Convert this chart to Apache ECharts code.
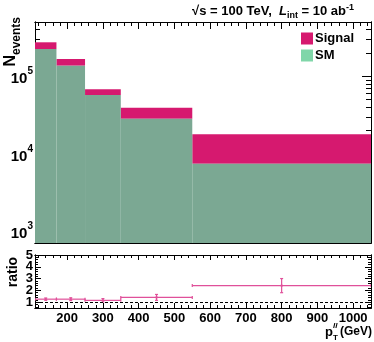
<!DOCTYPE html>
<html>
<head>
<meta charset="utf-8">
<script src="https://cdn.jsdelivr.net/npm/echarts@6/dist/echarts.min.js"></script>
<style>
html, body { margin: 0; padding: 0; background: #fff; }
#chart { width: 374px; height: 342px; }
</style>
</head>
<body>
<div id="chart"></div>
<script>
// pT bins (GeV)
var binLow = [110, 170, 250, 350, 550];
var binHigh = [170, 250, 350, 550, 1050];

// events per bin
var smEvents = [224000, 137000, 57400, 28500, 7500];
var signalEvents = [50000, 30000, 10600, 11000, 10400];

// ratio panel
var ratioValues = [1.25, 1.25, 1.15, 1.4, 2.4];
var ratioErrors = [0.1, 0.12, 0.15, 0.25, 0.6];

// axis ticks
var xMajor = [200, 300, 400, 500, 600, 700, 800, 900, 1000];
var yMajor = [1000, 10000, 100000];
var ratioMajor = [1, 2, 3, 4, 5];

var xMin = 110, xMax = 1050;
var yMin = 716, yMax = 500000;
var rMin = 0.5, rMax = 5;

var xMinor = [];
for (var v = 120; v <= 1040; v += 20) {
	if (v % 100 !== 0) xMinor.push(v);
}
var yMinor = [];
[100, 1000, 10000, 100000].forEach(function (d) {
	for (var k = 2; k <= 9; k++) {
		var t = k * d;
		if (t > yMin && t < yMax) yMinor.push(t);
	}
});
var ratioMinor = [];
for (var r = 6; r <= 48; r += 2) {
	if (r % 10 !== 0) ratioMinor.push(r / 10);
}
//比值轴标签太挤，分成两组放在两根重叠的轴上
var ratioOdd = ratioMajor.filter(function (d) { return d % 2 === 1; });
var ratioEven = ratioMajor.filter(function (d) { return d % 2 === 0; });

var FONT = "'Liberation Sans', Arial, sans-serif";

var chart = echarts.init(document.getElementById("chart"));

//单根坐标轴，只负责一组刻度
function tickAxis(dim, grid, pos, values, len, extra) {
	var ax = {
		type: "value",
		gridIndex: grid,
		position: pos,
		axisLine: { show: true, onZero: false, lineStyle: { color: "#000", width: 1 } },
		axisTick: { show: true, inside: true, length: len, customValues: values, lineStyle: { color: "#000", width: 1 } },
		axisLabel: { show: false },
		splitLine: { show: false }
	};
	if (dim === "x") {
		ax.min = xMin; ax.max = xMax;
	} else if (grid === 0) {
		ax.type = "log"; ax.logBase = 10; ax.min = yMin; ax.max = yMax;
	} else {
		ax.min = rMin; ax.max = rMax;
	}
	return Object.assign(ax, extra || {});
}

function plainLabels(values, size) {
	return {
		show: true, customValues: values, margin: 2, interval: 0,
		showMinLabel: true, showMaxLabel: true, hideOverlap: false,
		formatter: function (val) { return String(val); },
		color: "#000", fontSize: size, fontWeight: "bold", fontFamily: FONT
	};
}

var xAxes = [
	tickAxis("x", 0, "bottom", xMajor, 7),
	tickAxis("x", 0, "bottom", xMinor, 4),
	tickAxis("x", 0, "top", xMajor, 7),
	tickAxis("x", 0, "top", xMinor, 4),
	tickAxis("x", 1, "bottom", xMajor, 5, {
		axisLabel: Object.assign(plainLabels(xMajor, 13), { margin: 4 })
	}),
	tickAxis("x", 1, "bottom", xMinor, 3),
	tickAxis("x", 1, "top", xMajor, 5),
	tickAxis("x", 1, "top", xMinor, 3)
];

var yAxes = [
	tickAxis("y", 0, "left", yMajor, 9, {
		axisLabel: {
			show: true, customValues: yMajor, margin: 2, interval: 0,
			showMinLabel: true, showMaxLabel: true, hideOverlap: false,
			formatter: function (val) {
				return "{b|10}{s|" + Math.round(Math.log10(val)) + "}";
			},
			rich: {
				b: { fontSize: 15, fontWeight: "bold", fontFamily: FONT, color: "#000", lineHeight: 20, verticalAlign: "bottom" },
				s: { fontSize: 10, fontWeight: "bold", fontFamily: FONT, color: "#000", lineHeight: 20, verticalAlign: "top" }
			}
		}
	}),
	tickAxis("y", 0, "left", yMinor, 5),
	tickAxis("y", 0, "right", yMajor, 9),
	tickAxis("y", 0, "right", yMinor, 5),
	tickAxis("y", 1, "left", ratioMajor, 6, { axisLabel: plainLabels(ratioOdd, 13) }),
	tickAxis("y", 1, "left", ratioMinor, 3, { axisLabel: plainLabels(ratioEven, 13) }),
	tickAxis("y", 1, "right", ratioMajor, 6),
	tickAxis("y", 1, "right", ratioMinor, 3)
];

//直方图矩形
function renderBlock(params, api) {
	var a = api.coord([api.value(0), api.value(2)]);
	var b = api.coord([api.value(1), api.value(3)]);
	return {
		type: "rect",
		shape: { x: a[0], y: a[1], width: b[0] - a[0], height: b[1] - a[1] },
		style: { fill: api.visual("color") }
	};
}

//比值点：横线 + 误差棒
function renderRatio(params, api) {
	var lo = api.value(0), hi = api.value(1), val = api.value(2), err = api.value(3);
	var c = (lo + hi) / 2;
	var p1 = api.coord([lo, val]);
	var p2 = api.coord([hi, val]);
	var up = api.coord([c, val + err]);
	var dn = api.coord([c, val - err]);
	var st = { stroke: "#e0509a", lineWidth: 1.2 };
	return {
		type: "group",
		children: [
			{ type: "line", shape: { x1: p1[0], y1: p1[1], x2: p2[0], y2: p2[1] }, style: st },
			{ type: "line", shape: { x1: up[0], y1: up[1], x2: dn[0], y2: dn[1] }, style: st },
			{ type: "line", shape: { x1: up[0] - 1.5, y1: up[1], x2: up[0] + 1.5, y2: up[1] }, style: st },
			{ type: "line", shape: { x1: dn[0] - 1.5, y1: dn[1], x2: dn[0] + 1.5, y2: dn[1] }, style: st },
			{ type: "line", shape: { x1: p1[0], y1: p1[1] - 1.5, x2: p1[0], y2: p1[1] + 1.5 }, style: st },
			{ type: "line", shape: { x1: p2[0], y1: p2[1] - 1.5, x2: p2[0], y2: p2[1] + 1.5 }, style: st },
			{ type: "rect", shape: { x: up[0] - 1, y: p1[1] - 1, width: 2, height: 2 }, style: { fill: "#e0509a" } }
		]
	};
}

var smData = binLow.map(function (lo, i) { return [lo, binHigh[i], smEvents[i], yMin]; });
var sigData = binLow.map(function (lo, i) { return [lo, binHigh[i], smEvents[i] + signalEvents[i], smEvents[i]]; });
var ratioData = binLow.map(function (lo, i) { return [lo, binHigh[i], ratioValues[i], ratioErrors[i]]; });

var option = {
	animation: false,
	backgroundColor: "#fff",
	grid: [
		{ left: 35, right: 3, top: 22, height: 221 },
		{ left: 35, right: 3, top: 255, height: 53 }
	],
	xAxis: xAxes,
	yAxis: yAxes,
	legend: {
		orient: "vertical",
		left: 296, top: 27,
		itemWidth: 12, itemHeight: 12, itemGap: 4,
		textStyle: { color: "#000", fontSize: 13, fontWeight: "bold", fontFamily: FONT, padding: [0, 0, 0, -3] },
		data: [
			{ name: "Signal", icon: "rect", itemStyle: { color: "#d6196f" } },
			{ name: "SM", icon: "rect", itemStyle: { color: "#80d6a9" } }
		]
	},
	series: [
		{
			name: "Signal", type: "custom", renderItem: renderBlock,
			xAxisIndex: 0, yAxisIndex: 0, clip: true,
			itemStyle: { color: "#d6196f" },
			encode: { x: [0, 1], y: [2, 3] },
			data: sigData
		},
		{
			name: "SM", type: "custom", renderItem: renderBlock,
			xAxisIndex: 0, yAxisIndex: 0, clip: true,
			itemStyle: { color: "#7ba893" },
			encode: { x: [0, 1], y: [2, 3] },
			data: smData
		},
		{
			name: "ratio", type: "custom", renderItem: renderRatio,
			xAxisIndex: 4, yAxisIndex: 4, clip: true,
			encode: { x: [0, 1], y: 2 },
			data: ratioData,
			markLine: {
				silent: true, symbol: "none",
				label: { show: false },
				lineStyle: { color: "#000", type: [3, 2], width: 1 },
				data: [{ yAxis: 1 }]
			}
		}
	],
	graphic: [
		{
			type: "text", x: 354, y: 11,
			style: {
				text: "{m|√s = 100 TeV,  }{i|L}{sb|int}{m| = 10 ab}{sp|-1}",
				align: "right", verticalAlign: "middle",
				rich: {
					m: { fontSize: 13, fontWeight: "bold", fontFamily: FONT, fill: "#000", lineHeight: 20, verticalAlign: "middle" },
					i: { fontSize: 13, fontWeight: "bold", fontStyle: "italic", fontFamily: FONT, fill: "#000", lineHeight: 20, verticalAlign: "middle" },
					sb: { fontSize: 9, fontWeight: "bold", fontFamily: FONT, fill: "#000", lineHeight: 20, verticalAlign: "bottom", padding: [0, 0, 1, 0] },
					sp: { fontSize: 9, fontWeight: "bold", fontFamily: FONT, fill: "#000", lineHeight: 20, verticalAlign: "top", padding: [2, 0, 0, 0] }
				}
			}
		},
		{
			type: "text", x: 13, y: 17, rotation: Math.PI / 2,
			style: {
				text: "{n|N}{e|events}",
				align: "right", verticalAlign: "middle",
				rich: {
					n: { fontSize: 16, fontWeight: "bold", fontFamily: FONT, fill: "#000", lineHeight: 20, verticalAlign: "top" },
					e: { fontSize: 12, fontWeight: "bold", fontFamily: FONT, fill: "#000", lineHeight: 20, verticalAlign: "bottom" }
				}
			}
		},
		{
			type: "text", x: 13, y: 272, rotation: Math.PI / 2,
			style: {
				text: "ratio", align: "center", verticalAlign: "middle",
				fontSize: 14, fontWeight: "bold", fontFamily: FONT, fill: "#000"
			}
		},
		{
			type: "text", x: 333, y: 332,
			style: { text: "p", align: "right", verticalAlign: "middle", fontSize: 13, fontWeight: "bold", fontFamily: FONT, fill: "#000" }
		},
		{
			type: "text", x: 333, y: 326,
			style: { text: "ll", align: "left", verticalAlign: "middle", fontSize: 8, fontStyle: "italic", fontWeight: "bold", fontFamily: FONT, fill: "#000" }
		},
		{
			type: "text", x: 333, y: 338,
			style: { text: "T", align: "left", verticalAlign: "middle", fontSize: 8, fontWeight: "bold", fontFamily: FONT, fill: "#000" }
		},
		{
			type: "text", x: 372, y: 332,
			style: { text: "(GeV)", align: "right", verticalAlign: "middle", fontSize: 12, fontWeight: "bold", fontFamily: FONT, fill: "#000" }
		}
	]
};

chart.setOption(option);
</script>
</body>
</html>
